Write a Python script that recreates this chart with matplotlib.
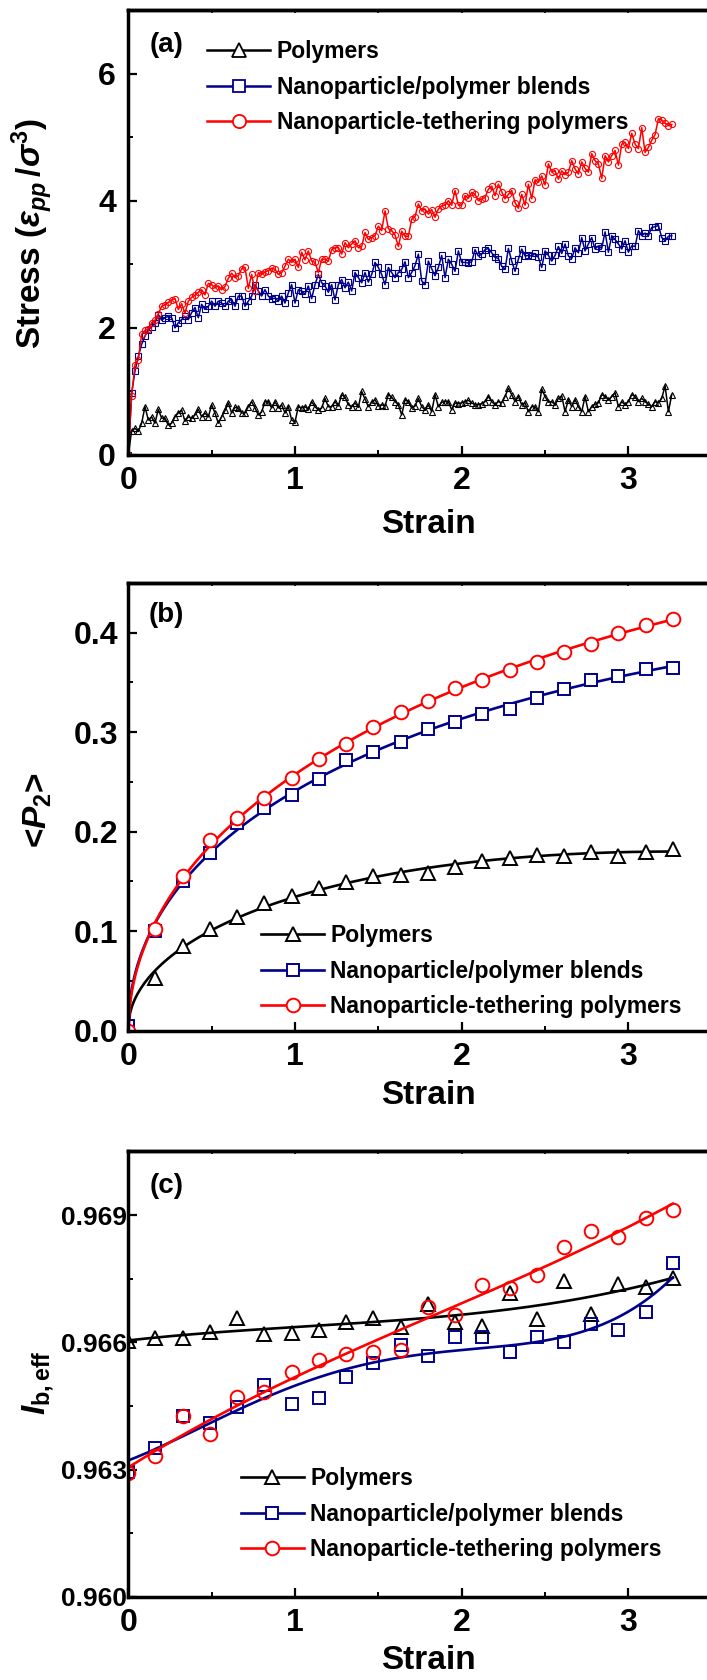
import matplotlib

matplotlib.use("Agg")

import matplotlib.pyplot as plt  # noqa: E402
import numpy as np  # noqa: E402
from matplotlib.lines import Line2D  # noqa: E402
from matplotlib.ticker import FormatStrFormatter, MultipleLocator, NullFormatter  # noqa: E402

plt.rcParams["font.family"] = ["Liberation Sans", "DejaVu Sans"]
plt.rcParams["font.weight"] = "bold"
plt.rcParams["mathtext.fontset"] = "custom"
plt.rcParams["mathtext.rm"] = "Liberation Sans:bold"
plt.rcParams["mathtext.bf"] = "Liberation Sans:bold"
plt.rcParams["mathtext.it"] = "Liberation Sans:italic:bold"

LABELS = ["Polymers", "Nanoparticle/polymer blends", "Nanoparticle-tethering polymers"]
COLORS = ["black", "#00008B", "#FF0000"]
MARKERS = ["^", "s", "o"]

# (a) stress-strain curves, sampled every 0.02 in strain
stress_polymer = [
    0.00, 0.38, 0.42, 0.37, 0.50, 0.76, 0.55, 0.60, 0.50, 0.72,
    0.58, 0.58, 0.47, 0.50, 0.60, 0.66, 0.71, 0.53, 0.60, 0.58,
    0.63, 0.72, 0.60, 0.66, 0.60, 0.79, 0.66, 0.50, 0.60, 0.70,
    0.82, 0.66, 0.75, 0.74, 0.66, 0.66, 0.76, 0.84, 0.74, 0.63,
    0.68, 0.84, 0.84, 0.74, 0.84, 0.74, 0.79, 0.66, 0.76, 0.55,
    0.52, 0.76, 0.74, 0.76, 0.72, 0.84, 0.76, 0.71, 0.74, 0.89,
    0.76, 0.76, 0.84, 0.77, 0.95, 0.91, 0.79, 0.76, 0.82, 0.75,
    1.00, 0.88, 0.76, 0.83, 0.87, 0.77, 0.79, 0.77, 0.95, 0.91,
    0.84, 0.79, 0.63, 0.87, 0.84, 0.74, 0.77, 0.89, 0.76, 0.71,
    0.79, 0.68, 0.95, 0.76, 0.83, 0.84, 0.84, 0.71, 0.82, 0.81,
    0.82, 0.84, 0.86, 0.82, 0.79, 0.79, 0.81, 0.84, 0.92, 0.84,
    0.79, 0.84, 0.82, 0.92, 1.05, 0.95, 0.84, 0.92, 0.79, 0.82,
    0.68, 0.76, 0.76, 0.68, 1.04, 0.92, 0.83, 0.84, 0.79, 0.89,
    0.93, 0.68, 0.87, 0.76, 0.87, 0.76, 0.68, 0.92, 0.68, 0.76,
    0.80, 0.82, 0.95, 0.92, 0.87, 0.92, 0.98, 0.76, 0.84, 0.79,
    0.84, 0.95, 0.92, 0.84, 0.89, 0.84, 0.80, 0.76, 0.84, 0.82,
    0.89, 1.09, 0.68, 0.95,
]
stress_blend = [
    0.00, 0.97, 1.32, 1.55, 1.74, 1.87, 1.97, 2.02, 2.08, 2.21,
    2.12, 2.16, 2.18, 2.16, 2.00, 2.08, 2.13, 2.18, 2.13, 2.24,
    2.32, 2.16, 2.37, 2.29, 2.34, 2.42, 2.34, 2.42, 2.39, 2.34,
    2.42, 2.45, 2.34, 2.50, 2.50, 2.34, 2.42, 2.50, 2.68, 2.58,
    2.50, 2.60, 2.50, 2.45, 2.47, 2.42, 2.50, 2.39, 2.55, 2.68,
    2.39, 2.60, 2.58, 2.53, 2.66, 2.46, 2.68, 2.84, 2.71, 2.66,
    2.56, 2.68, 2.44, 2.68, 2.76, 2.63, 2.72, 2.58, 2.87, 2.79,
    2.71, 2.87, 2.72, 2.84, 3.03, 2.95, 2.84, 2.68, 2.95, 2.87,
    2.79, 2.87, 2.92, 3.04, 2.79, 2.87, 2.98, 3.16, 2.74, 2.68,
    3.05, 2.93, 2.82, 2.95, 3.14, 2.79, 3.08, 3.00, 2.89, 3.21,
    3.03, 3.03, 3.02, 3.04, 3.23, 3.13, 3.16, 3.23, 3.25, 3.18,
    3.11, 3.09, 2.97, 2.92, 3.25, 3.05, 2.89, 3.08, 3.24, 3.13,
    3.14, 3.13, 3.17, 3.11, 2.95, 3.21, 3.14, 3.05, 3.14, 3.28,
    3.17, 3.32, 3.13, 3.09, 3.26, 3.18, 3.42, 3.21, 3.32, 3.42,
    3.24, 3.29, 3.25, 3.51, 3.19, 3.45, 3.39, 3.32, 3.24, 3.37,
    3.19, 3.29, 3.28, 3.53, 3.45, 3.49, 3.45, 3.58, 3.59, 3.61,
    3.42, 3.37, 3.44, 3.45,
]
stress_tether = [
    0.00, 0.93, 1.42, 1.50, 1.90, 1.96, 1.98, 2.08, 2.12, 2.22,
    2.34, 2.36, 2.40, 2.44, 2.46, 2.29, 2.38, 2.23, 2.42, 2.48,
    2.51, 2.56, 2.60, 2.52, 2.70, 2.68, 2.63, 2.66, 2.60, 2.65,
    2.78, 2.86, 2.79, 2.82, 2.93, 2.95, 2.62, 2.84, 2.58, 2.87,
    2.84, 2.88, 2.90, 2.94, 2.92, 2.84, 2.87, 2.97, 3.08, 3.03,
    3.08, 2.95, 3.19, 3.07, 3.21, 3.05, 3.03, 2.87, 3.08, 3.08,
    3.05, 3.23, 3.26, 3.26, 3.16, 3.34, 3.26, 3.32, 3.37, 3.26,
    3.28, 3.50, 3.39, 3.42, 3.45, 3.60, 3.53, 3.84, 3.56, 3.53,
    3.46, 3.28, 3.52, 3.44, 3.44, 3.71, 3.75, 3.95, 3.84, 3.87,
    3.79, 3.86, 3.74, 3.87, 3.92, 3.93, 4.00, 3.93, 4.16, 3.93,
    3.93, 4.08, 4.04, 4.13, 4.10, 4.00, 4.03, 4.05, 4.18, 4.23,
    4.08, 4.26, 4.14, 4.03, 4.10, 4.16, 3.97, 3.88, 4.10, 3.93,
    4.26, 4.03, 4.33, 4.29, 4.39, 4.25, 4.58, 4.45, 4.47, 4.34,
    4.47, 4.41, 4.45, 4.63, 4.50, 4.42, 4.61, 4.51, 4.45, 4.74,
    4.63, 4.58, 4.35, 4.71, 4.61, 4.71, 4.79, 4.56, 4.89, 4.92,
    4.82, 5.06, 4.89, 4.82, 5.15, 4.76, 4.84, 4.95, 5.04, 5.29,
    5.27, 5.22, 5.18, 5.20,
]
strain_a = np.linspace(0.0, 3.26, len(stress_polymer))

# (b) and (c) sampled at the same 21 strains
strain_bc = [0.0, 0.163, 0.327, 0.49, 0.653, 0.817, 0.98, 1.143, 1.307, 1.47,
             1.633, 1.797, 1.96, 2.123, 2.287, 2.45, 2.613, 2.777, 2.94, 3.103, 3.266]

p2_polymer = [0.005, 0.053, 0.085, 0.102, 0.114, 0.128, 0.135, 0.143, 0.149, 0.155,
              0.157, 0.159, 0.165, 0.171, 0.174, 0.177, 0.176, 0.180, 0.176, 0.180, 0.183]
p2_blend = [0.005, 0.100, 0.150, 0.179, 0.209, 0.224, 0.237, 0.253, 0.272, 0.280,
            0.290, 0.303, 0.310, 0.318, 0.323, 0.334, 0.343, 0.353, 0.357, 0.364, 0.365]
p2_tether = [0.000, 0.102, 0.155, 0.192, 0.214, 0.234, 0.254, 0.273, 0.288, 0.305,
             0.320, 0.331, 0.344, 0.353, 0.363, 0.371, 0.381, 0.389, 0.400, 0.408, 0.414]

lb_polymer = [0.96603, 0.96610, 0.96611, 0.96624, 0.96658, 0.96620, 0.96622, 0.96628,
              0.96648, 0.96658, 0.96637, 0.96690, 0.96648, 0.96639, 0.96717, 0.96654,
              0.96745, 0.96666, 0.96738, 0.96731, 0.96752]
lb_blend = [0.96295, 0.96350, 0.96426, 0.96409, 0.96447, 0.96500, 0.96454, 0.96468,
            0.96517, 0.96551, 0.96593, 0.96568, 0.96612, 0.96613, 0.96576, 0.96612,
            0.96601, 0.96643, 0.96628, 0.96671, 0.96787]
lb_tether = [0.96291, 0.96333, 0.96426, 0.96384, 0.96470, 0.96483, 0.96531, 0.96559,
             0.96573, 0.96578, 0.96582, 0.96683, 0.96665, 0.96734, 0.96727, 0.96759,
             0.96824, 0.96863, 0.96848, 0.96892, 0.96913]

FIG_W, FIG_H = 707, 1680
X0, PX_PER_STRAIN = 128.3, 166.7
XMAX = 3.5


def axes_rect(top_px, bottom_px):
    return [X0 / FIG_W, 1 - bottom_px / FIG_H,
            XMAX * PX_PER_STRAIN / FIG_W, (bottom_px - top_px) / FIG_H]


def style_axes(ax, ymajor, yminor, ytick_size, ypad):
    ax.set_xlim(0, XMAX)
    ax.xaxis.set_major_locator(MultipleLocator(1))
    ax.xaxis.set_minor_locator(MultipleLocator(0.5))
    ax.yaxis.set_major_locator(MultipleLocator(ymajor))
    ax.yaxis.set_minor_locator(MultipleLocator(yminor))
    for s in ax.spines.values():
        s.set_linewidth(2.5)
    ax.spines["right"].set_visible(False)
    ax.tick_params(which="both", direction="in", top=False, right=False)
    ax.tick_params(which="major", length=6.5, width=1.6)
    ax.tick_params(which="minor", length=3.5, width=1.4)
    ax.tick_params(axis="x", which="major", labelsize=23, pad=8)
    ax.tick_params(axis="y", which="major", labelsize=ytick_size, pad=ypad)
    for lab in ax.get_xticklabels() + ax.get_yticklabels():
        lab.set_fontweight("bold")
    # short unlabelled ticks along the top edge
    top = ax.secondary_xaxis("top")
    top.xaxis.set_major_locator(MultipleLocator(0.5))
    top.xaxis.set_major_formatter(NullFormatter())
    top.tick_params(direction="in", length=2.5, width=1.2)
    top.spines["top"].set_linewidth(2.5)


def axis_titles(ax, ylabel, xl_y, yl_px):
    # x title sits under the axis, y title is centred on a given figure pixel
    ax.set_xlabel("Strain", fontsize=24, fontweight="bold")
    ax.xaxis.label.set_va("center")
    ax.xaxis.set_label_coords(0.515, xl_y)
    fig.text(yl_px[0] / FIG_W, 1 - yl_px[1] / FIG_H, ylabel, rotation=90,
             ha="center", va="center", fontsize=24, fontweight="bold")


def add_legend(ax, handles, anchor):
    ax.legend(handles, LABELS, loc="upper left", bbox_to_anchor=anchor,
              frameon=False, borderpad=0, borderaxespad=0, handlelength=2.75,
              handletextpad=0.28, labelspacing=0.55, prop={"size": 16.5, "weight": "bold"})


fig = plt.figure(figsize=(FIG_W / 100, FIG_H / 100), dpi=100)
ax_a = fig.add_axes(axes_rect(10, 455))
ax_b = fig.add_axes(axes_rect(583, 1030.7))
ax_c = fig.add_axes(axes_rect(1151.4, 1596.8))

# (a) stress
a_sizes = [5.0, 4.0, 4.4]
for y, c, m, ms in zip([stress_polymer, stress_blend, stress_tether], COLORS, MARKERS, a_sizes):
    ax_a.plot(strain_a, y, color=c, lw=1.1, marker=m, ms=ms, mfc="none", mec=c, mew=0.8)
style_axes(ax_a, 2, 1, 23, 9)
ax_a.set_ylim(0, 7)
axis_titles(ax_a, r"Stress ($\varepsilon_{pp}\,/\sigma^{3}$)", -0.157, (33, 234))
handles_a = [Line2D([], [], color=c, lw=1.8, marker=m, ms=ms, mfc="white", mec=c, mew=1.3)
             for c, m, ms in zip(COLORS, MARKERS, [10.5, 8.5, 9.5])]
add_legend(ax_a, handles_a, (0.135, 0.932))
ax_a.text(0.066, 0.922, "(a)", transform=ax_a.transAxes, ha="center", va="center",
          fontsize=20, fontweight="bold")

# (b) orientation order parameter, smooth fit in sqrt(strain)
x_fine = np.linspace(0, strain_bc[-1], 300)
bc_sizes = [10.0, 8.6, 9.8]
for y, c, m, ms in zip([p2_polymer, p2_blend, p2_tether], COLORS, MARKERS, bc_sizes):
    coef = np.polyfit(np.sqrt(strain_bc), y, 3)
    ax_b.plot(x_fine, np.polyval(coef, np.sqrt(x_fine)), color=c, lw=1.9)
    ax_b.plot(strain_bc, y, ls="none", marker=m, ms=ms, mfc="white", mec=c, mew=1.4)
style_axes(ax_b, 0.1, 0.05, 23, 7)
ax_b.set_ylim(0, 0.45)
ax_b.yaxis.set_major_formatter(FormatStrFormatter("%.1f"))
axis_titles(ax_b, r"<$P_{2}$>", -0.145, (38, 810))
handles_b = [Line2D([], [], color=c, lw=1.9, marker=m, ms=ms, mfc="white", mec=c, mew=1.4)
             for c, m, ms in zip(COLORS, MARKERS, bc_sizes)]
add_legend(ax_b, handles_b, (0.2275, 0.238))
ax_b.text(0.066, 0.9285, "(b)", transform=ax_b.transAxes, ha="center", va="center",
          fontsize=20, fontweight="bold")

# (c) effective bond length, polynomial fits
fit_deg = [3, 4, 3]
for y, c, m, ms, deg in zip([lb_polymer, lb_blend, lb_tether], COLORS, MARKERS, bc_sizes, fit_deg):
    coef = np.polyfit(strain_bc, y, deg)
    ax_c.plot(x_fine, np.polyval(coef, x_fine), color=c, lw=1.9)
    ax_c.plot(strain_bc, y, ls="none", marker=m, ms=ms, mfc="none", mec=c, mew=1.4)
style_axes(ax_c, 0.003, 0.0015, 19, 1)
ax_c.set_ylim(0.960, 0.9705)
ax_c.yaxis.set_major_formatter(FormatStrFormatter("%.3f"))
axis_titles(ax_c, r"$I_{\mathrm{b,eff}}$", -0.144, (38, 1383))
add_legend(ax_c, handles_b, (0.193, 0.291))
ax_c.text(0.066, 0.9223, "(c)", transform=ax_c.transAxes, ha="center", va="center",
          fontsize=20, fontweight="bold")

fig.savefig("out.png", dpi=100)
plt.close(fig)
